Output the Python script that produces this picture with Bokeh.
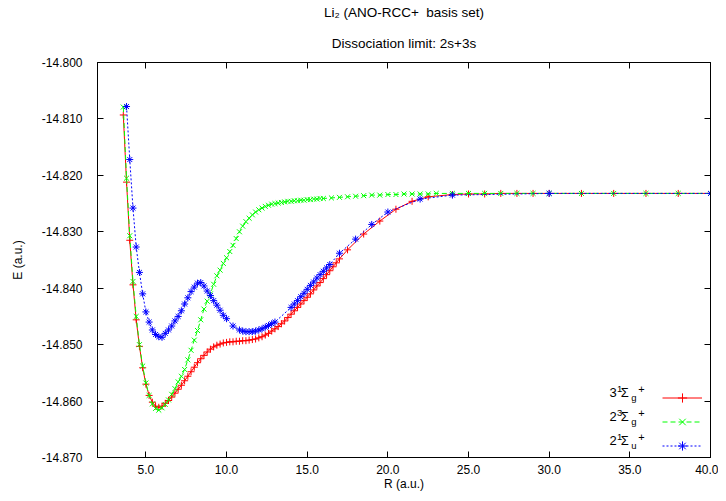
from bokeh.plotting import figure
from bokeh.models import (Range1d, LinearAxis, FixedTicker, PrintfTickFormatter, Label, Title,
                          Legend, LegendItem, CustomJSTickFormatter)
from bokeh.embed import file_html
from bokeh.resources import INLINE

# ---------------- data ----------------
red_r = [3.6, 3.8, 4.0, 4.2, 4.4, 4.6, 4.8, 5.0, 5.2, 5.4, 5.6, 5.8, 6.0, 6.2, 6.4, 6.6, 6.8, 7.0,
         7.2, 7.4, 7.6, 7.8, 8.0, 8.2, 8.4, 8.6, 8.8, 9.0, 9.2, 9.4, 9.6, 9.8, 10.0, 10.2, 10.4,
         10.6, 10.8, 11.0, 11.2, 11.4, 11.6, 11.8, 12.0, 12.2, 12.4, 12.6, 12.8, 13.0, 13.2, 13.4,
         13.6, 13.8, 14.0, 14.2, 14.4, 14.6, 14.8, 15.0, 15.2, 15.4, 15.6, 15.8, 16.0, 16.2, 16.4,
         16.6, 16.8, 17.0, 17.5, 18.5, 19.5, 20.5, 21.5, 22.5, 24.0, 25.0, 26.0, 27.0, 28.0, 29.0,
         30.0, 32.0, 34.0, 36.0, 38.0, 40.0]
red_e = [-14.8093, -14.8212, -14.8315, -14.8394, -14.8456, -14.8503, -14.8541, -14.8570, -14.8590,
         -14.8602, -14.8609, -14.8611, -14.8609, -14.8604, -14.8599, -14.8593, -14.8586, -14.8579,
         -14.8572, -14.8564, -14.8556, -14.8548, -14.8540, -14.8532, -14.8525, -14.8519, -14.8513,
         -14.8508, -14.8504, -14.8501, -14.8499, -14.8497, -14.8496, -14.8495, -14.8495, -14.8494,
         -14.8494, -14.8493, -14.8493, -14.8492, -14.8491, -14.8490, -14.8488, -14.8486, -14.8483,
         -14.8480, -14.8476, -14.8472, -14.8468, -14.8463, -14.8458, -14.8452, -14.8446, -14.8440,
         -14.8434, -14.8428, -14.8422, -14.8416, -14.8410, -14.8403, -14.8396, -14.8390, -14.8383,
         -14.8376, -14.8369, -14.8362, -14.8355, -14.8348, -14.8332, -14.8304, -14.8281, -14.8260,
         -14.8246, -14.8238, -14.8234, -14.8233, -14.8233, -14.8232, -14.8232, -14.8232, -14.8232,
         -14.8232, -14.8232, -14.8232, -14.8232, -14.8232]

green_r = [3.6, 3.8, 4.0, 4.2, 4.4, 4.6, 4.8, 5.0, 5.2, 5.4, 5.6, 5.8, 6.0, 6.2, 6.4, 6.6, 6.8, 7.0,
           7.2, 7.4, 7.6, 7.8, 8.0, 8.2, 8.4, 8.6, 8.8, 9.0, 9.2, 9.4, 9.6, 9.8, 10.0, 10.2, 10.4,
           10.6, 10.8, 11.0, 11.2, 11.4, 11.6, 11.8, 12.0, 12.2, 12.4, 12.6, 12.8, 13.0, 13.2, 13.4,
           13.6, 13.8, 14.0, 14.2, 14.4, 14.6, 14.8, 15.0, 15.2, 15.4, 15.6, 15.8, 16.0, 16.5, 17.0,
           17.5, 18.0, 18.5, 19.0, 19.5, 20.0, 20.5, 21.0, 21.5, 22.0, 22.5, 23.0, 24.0, 25.0, 26.0,
           27.0, 28.0, 29.0, 30.0, 32.0, 34.0, 36.0, 38.0, 40.0]
green_e = [-14.8079, -14.8205, -14.8307, -14.8388, -14.8450, -14.8500, -14.8538, -14.8568, -14.8590,
           -14.8605, -14.8613, -14.8616, -14.8612, -14.8606, -14.8598, -14.8588, -14.8578, -14.8566,
           -14.8556, -14.8544, -14.8527, -14.8510, -14.8492, -14.8475, -14.8456, -14.8437, -14.8423,
           -14.8410, -14.8393, -14.8378, -14.8368, -14.8356, -14.8346, -14.8335, -14.8324, -14.8312,
           -14.8300, -14.8290, -14.8282, -14.8276, -14.8270, -14.8265, -14.8261, -14.8258, -14.8255,
           -14.8253, -14.8251, -14.8250, -14.8249, -14.8248, -14.8247, -14.8246, -14.8246, -14.8245,
           -14.8245, -14.8244, -14.8244, -14.8243, -14.8243, -14.8242, -14.8242, -14.8241, -14.8241,
           -14.8240, -14.8239, -14.8238, -14.8237, -14.8236, -14.8235, -14.8235, -14.8234, -14.8234,
           -14.8233, -14.8233, -14.8233, -14.8233, -14.8232, -14.8232, -14.8232, -14.8232, -14.8232,
           -14.8232, -14.8232, -14.8232, -14.8232, -14.8232, -14.8232, -14.8232, -14.8232]

blue_r = [3.8, 4.0, 4.2, 4.4, 4.6, 4.8, 5.0, 5.2, 5.4, 5.6, 5.8, 6.0, 6.2, 6.4, 6.6, 6.8, 7.0, 7.2,
          7.4, 7.6, 7.8, 8.0, 8.2, 8.4, 8.6, 8.8, 9.0, 9.2, 9.4, 9.6, 9.8, 10.0, 10.4, 10.8, 11.0,
          11.2, 11.4, 11.6, 11.8, 12.0, 12.2, 12.4, 12.6, 12.8, 13.0, 14.0, 14.2, 14.4, 14.6, 14.8,
          15.0, 15.2, 15.4, 15.6, 15.8, 16.0, 16.2, 16.4, 17.0, 18.0, 19.0, 20.0, 22.0, 24.0, 30.0,
          40.0]
blue_e = [-14.8078, -14.8172, -14.8258, -14.8327, -14.8372, -14.8410, -14.8442, -14.8460, -14.8474,
          -14.8482, -14.8486, -14.8487, -14.8480, -14.8474, -14.8467, -14.8458, -14.8450, -14.8440,
          -14.8428, -14.8417, -14.8406, -14.8398, -14.8391, -14.8390, -14.8396, -14.8405, -14.8413,
          -14.8422, -14.8430, -14.8439, -14.8448, -14.8454, -14.8467, -14.8474, -14.8476, -14.8477,
          -14.8477, -14.8477, -14.8476, -14.8474, -14.8472, -14.8469, -14.8466, -14.8463, -14.8460,
          -14.8434, -14.8428, -14.8422, -14.8415, -14.8409, -14.8402, -14.8395, -14.8389, -14.8382,
          -14.8376, -14.8370, -14.8364, -14.8358, -14.8338, -14.8313, -14.8287, -14.8265, -14.8242,
          -14.8235, -14.8232, -14.8232]

x_ticks = [5, 10, 15, 20, 25, 30, 35, 40]
y_ticks = [-14.870, -14.860, -14.850, -14.840, -14.830, -14.820, -14.810, -14.800]

title_1 = "Li\u2082 (ANO-RCC+ \u00a0basis set)"
title_2 = "Dissociation limit: 2s+3s"
x_label = "R (a.u.)"
y_label = "E (a.u.)"
# legend texts: lead digit, superscript, Sigma, subscript, superscript
legend_parts = [("3", "1", "\u03a3", "g", "+"),
                ("2", "3", "\u03a3", "g", "+"),
                ("2", "1", "\u03a3", "u", "+")]

FONT = "Liberation Sans"

p = figure(width=718, height=493, output_backend="svg", toolbar_location=None,
           x_range=Range1d(2, 40), y_range=Range1d(-14.870, -14.800),
           min_border_left=97, min_border_right=8, min_border_top=50, min_border_bottom=36)
p.title = None
p.grid.visible = False
p.outline_line_color = "black"
p.outline_line_width = 1
p.background_fill_color = "white"
p.border_fill_color = "white"

def style_axis(ax):
    ax.major_tick_in = 6
    ax.major_tick_out = 0
    ax.minor_tick_in = 0
    ax.minor_tick_out = 0
    ax.axis_line_color = "black"
    ax.major_tick_line_color = "black"
    ax.major_label_text_font = FONT
    ax.major_label_text_font_size = "12px"
    ax.major_label_text_color = "black"
    ax.axis_label_text_font = FONT
    ax.axis_label_text_font_size = "12px"
    ax.axis_label_text_font_style = "normal"
    ax.axis_label_text_color = "black"

xa = p.xaxis[0]
xa.ticker = FixedTicker(ticks=x_ticks)
xa.formatter = PrintfTickFormatter(format="%.1f")
style_axis(xa)
xa.major_label_standoff = 7
xa.axis_label = x_label
xa.axis_label_standoff = 0

ya = p.yaxis[0]
ya.ticker = FixedTicker(ticks=y_ticks)
ya.formatter = PrintfTickFormatter(format="%.3f")
style_axis(ya)
ya.major_label_standoff = 15
ya.axis_label = y_label
ya.axis_label_standoff = 14

# mirrored tick axes (no labels)
blank = CustomJSTickFormatter(code="return ''")
top = LinearAxis(ticker=FixedTicker(ticks=x_ticks), formatter=blank)
right = LinearAxis(ticker=FixedTicker(ticks=y_ticks), formatter=blank)
for ax in (top, right):
    style_axis(ax)
    ax.major_label_text_font_size = "0px"
    ax.major_label_standoff = 0
    ax.axis_label_standoff = 0
top.major_label_standoff = 1
p.add_layout(top, "above")
p.add_layout(right, "right")

# two-line title
t2 = Title(text=title_2, align="center", text_font=FONT, text_font_size="13.5px",
           text_font_style="normal", text_color="black", standoff=24)
t1 = Title(text=title_1, align="center", text_font=FONT, text_font_size="13.5px",
           text_font_style="normal", text_color="black", standoff=4)
p.add_layout(t2, "above")
p.add_layout(t1, "above")

# ---------------- series ----------------
series = [
    (red_r, red_e, "#ff0000", "solid", "cross"),
    (green_r, green_e, "#00ff00", "5 3", "x"),
    (blue_r, blue_e, "#0000ff", "2 2", "asterisk"),
]
items = []
for xs, ys, col, dash, mk in series:
    lr = p.line(xs, ys, line_color=col, line_width=1, line_dash=dash)
    sr = p.scatter(xs, ys, marker=mk, size=7, line_color=col, line_width=1, fill_color=None)
    items.append(LegendItem(label=" ", renderers=[lr, sr]))

legend = Legend(items=items, location="bottom_right", glyph_width=40, glyph_height=23,
                spacing=1, padding=6, margin=0, label_standoff=8, label_width=0,
                label_text_font=FONT, label_text_font_size="12px",
                background_fill_alpha=0, border_line_color=None)
p.add_layout(legend, "center")

# legend texts: x in data units, y in screen px above the frame bottom
row_y = [65.5, 41.5, 17.5]
for (lead, sup1, sig, sub, sup2), yc in zip(legend_parts, row_y):
    for txt, xo, yo, fs in [(lead, 33.74, yc, "13px"), (sup1, 34.20, yc + 3, "9.5px"),
                            (sig, 34.43, yc, "13px"), (sub, 35.09, yc - 5, "9.5px"),
                            (sup2, 35.52, yc + 3, "11px")]:
        p.add_layout(Label(x=xo, y=yo, x_units="data", y_units="screen", text=txt,
                           text_font=FONT, text_font_size=fs, text_color="black",
                           text_baseline="middle", text_align="left"))

open("out.html", "w").write(file_html(p, INLINE))
